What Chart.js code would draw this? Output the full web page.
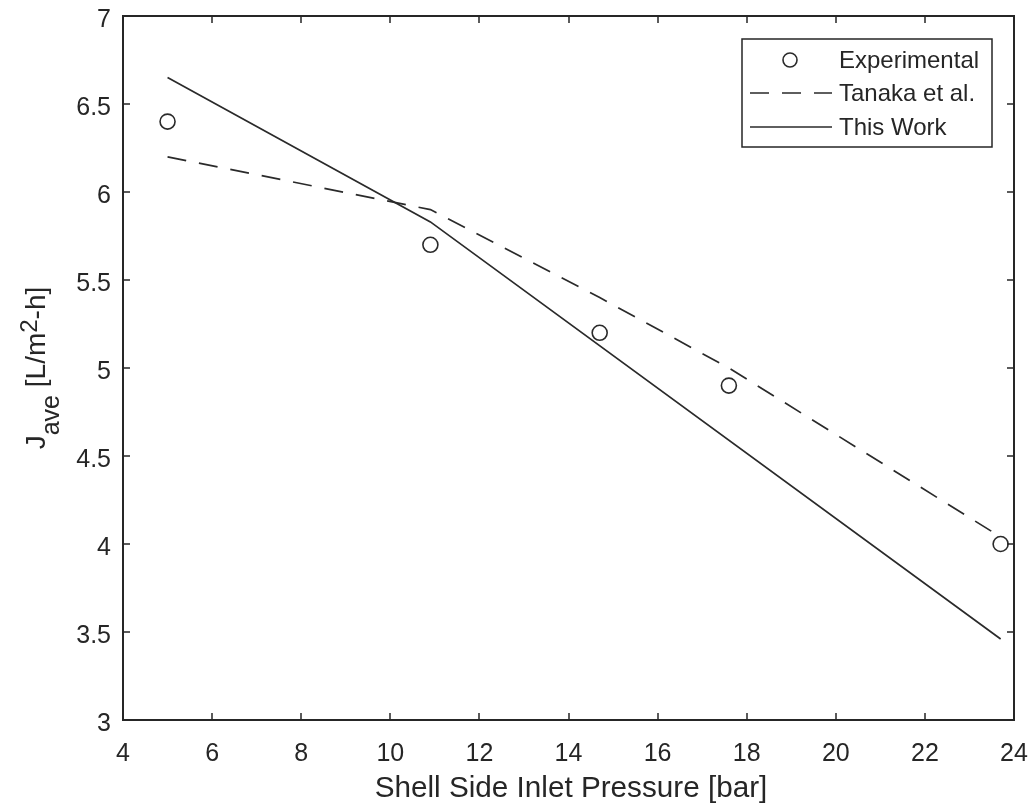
<!DOCTYPE html>
<html>
<head>
<meta charset="utf-8">
<script src="https://cdn.jsdelivr.net/npm/chart.js@4/dist/chart.umd.min.js"></script>
<style>
html,body{margin:0;padding:0;background:#fff;}
#wrap{width:1034px;height:812px;}
</style>
</head>
<body>
<div id="wrap"><canvas id="c" width="1034" height="812"></canvas></div>
<script>
// ---- data ----
const expX = [5, 10.9, 14.7, 17.6, 23.7];
const expY = [6.4, 5.7, 5.2, 4.9, 4.0];
const tanakaX = [5, 10.9, 14.7, 17.6, 23.7];
const tanakaY = [6.2, 5.9, 5.4, 5.0, 4.04];
const workX = [5, 10.9, 23.7];
const workY = [6.65, 5.83, 3.46];
const xTicks = [4, 6, 8, 10, 12, 14, 16, 18, 20, 22, 24];
const yTicks = [3, 3.5, 4, 4.5, 5, 5.5, 6, 6.5, 7];
const seriesNames = ['Experimental', 'Tanaka et al.', 'This Work'];
const xTitle = 'Shell Side Inlet Pressure [bar]';

const INK = '#262626';
const LINE = '#2a2a2a';
const FONT = '"Liberation Sans", Arial, Helvetica, sans-serif';

function pts(xs, ys){ return xs.map((x,i)=>({x:x, y:ys[i]})); }

const framePlugin = {
  id: 'frame',
  afterDraw(chart){
    const ctx = chart.ctx;
    const a = chart.chartArea;
    const xs = chart.scales.x, ys = chart.scales.y;
    ctx.save();
    // box
    ctx.strokeStyle = INK;
    ctx.lineWidth = 2;
    ctx.strokeRect(a.left, a.top, a.right - a.left, a.bottom - a.top);
    // inward ticks
    ctx.lineWidth = 1.5;
    const tl = 7;
    ctx.beginPath();
    xTicks.forEach(v=>{
      const px = Math.round(xs.getPixelForValue(v));
      ctx.moveTo(px, a.bottom); ctx.lineTo(px, a.bottom - tl);
      ctx.moveTo(px, a.top); ctx.lineTo(px, a.top + tl);
    });
    yTicks.forEach(v=>{
      const py = Math.round(ys.getPixelForValue(v));
      ctx.moveTo(a.left, py); ctx.lineTo(a.left + tl, py);
      ctx.moveTo(a.right, py); ctx.lineTo(a.right - tl, py);
    });
    ctx.stroke();

    // x title
    ctx.fillStyle = INK;
    ctx.font = '29.7px ' + FONT;
    ctx.textAlign = 'center';
    ctx.textBaseline = 'alphabetic';
    ctx.fillText(xTitle, 571, 797);

    // y title with sub/superscript
    const main = '28px ' + FONT, sub = '25px ' + FONT, sup = '24px ' + FONT;
    const parts = [
      {t:'J', f:main, dy:0},
      {t:'ave', f:sub, dy:14},
      {t:' [L/m', f:main, dy:0},
      {t:'2', f:sup, dy:-8},
      {t:'-h]', f:main, dy:0}
    ];
    let total = 0;
    parts.forEach(p=>{ ctx.font = p.f; p.w = ctx.measureText(p.t).width; total += p.w; });
    ctx.translate(45, 368);
    ctx.rotate(-Math.PI/2);
    ctx.textAlign = 'left';
    let x0 = -total/2;
    parts.forEach(p=>{ ctx.font = p.f; ctx.fillText(p.t, x0, p.dy); x0 += p.w; });
    ctx.restore();

    // legend
    ctx.save();
    const L = {x:742, y:39, w:250, h:108};
    ctx.fillStyle = '#fff';
    ctx.fillRect(L.x, L.y, L.w, L.h);
    ctx.strokeStyle = INK;
    ctx.lineWidth = 1.5;
    ctx.strokeRect(L.x, L.y, L.w, L.h);
    const rows = [60, 93, 127];
    const ds = chart.data.datasets;
    ctx.strokeStyle = LINE;
    ctx.lineWidth = 1.6;
    ctx.beginPath(); ctx.arc(790, rows[0], 7, 0, Math.PI*2); ctx.stroke();
    ctx.setLineDash(ds[1].borderDash);
    ctx.beginPath(); ctx.moveTo(750, rows[1]); ctx.lineTo(832, rows[1]); ctx.stroke();
    ctx.setLineDash([]);
    ctx.beginPath(); ctx.moveTo(750, rows[2]); ctx.lineTo(832, rows[2]); ctx.stroke();
    ctx.fillStyle = INK;
    ctx.font = '24px ' + FONT;
    ctx.textAlign = 'left';
    ctx.textBaseline = 'middle';
    seriesNames.forEach((n,i)=>ctx.fillText(n, 839, rows[i] + 1));
    ctx.restore();
  }
};

new Chart(document.getElementById('c'), {
  type: 'scatter',
  data: {
    datasets: [
      {label: seriesNames[0], data: pts(expX, expY), showLine: false,
       pointStyle: 'circle', pointRadius: 7.5, pointHoverRadius: 7.5,
       pointBackgroundColor: 'rgba(0,0,0,0)', pointBorderColor: LINE, pointBorderWidth: 1.6},
      {label: seriesNames[1], data: pts(tanakaX, tanakaY), showLine: true,
       borderColor: LINE, borderWidth: 1.7, borderDash: [19, 13], pointRadius: 0, fill: false, tension: 0},
      {label: seriesNames[2], data: pts(workX, workY), showLine: true,
       borderColor: LINE, borderWidth: 1.7, pointRadius: 0, fill: false, tension: 0}
    ]
  },
  options: {
    responsive: false,
    animation: false,
    devicePixelRatio: 1,
    layout: {padding: {left: 0, right: 20, top: 16, bottom: 0}},
    plugins: {legend: {display: false}, tooltip: {enabled: false}},
    scales: {
      x: {
        type: 'linear', min: 4, max: 24,
        afterBuildTicks: s => { s.ticks = xTicks.map(v=>({value:v})); },
        afterFit: s => { s.height = 92; s.paddingLeft = 0; s.paddingRight = 0; },
        grid: {display: false, drawTicks: false},
        border: {display: false},
        ticks: {color: INK, font: {size: 25, family: FONT}, padding: 19, maxRotation: 0, autoSkip: false,
                callback: v => String(v)}
      },
      y: {
        type: 'linear', min: 3, max: 7,
        afterBuildTicks: s => { s.ticks = yTicks.map(v=>({value:v})); },
        afterFit: s => { s.width = 123; s.paddingTop = 0; s.paddingBottom = 0; },
        grid: {display: false, drawTicks: false},
        border: {display: false},
        ticks: {color: INK, font: {size: 25, family: FONT}, padding: 12, labelOffset: 4, autoSkip: false,
                callback: v => String(v)}
      }
    }
  },
  plugins: [framePlugin]
});
</script>
</body>
</html>
